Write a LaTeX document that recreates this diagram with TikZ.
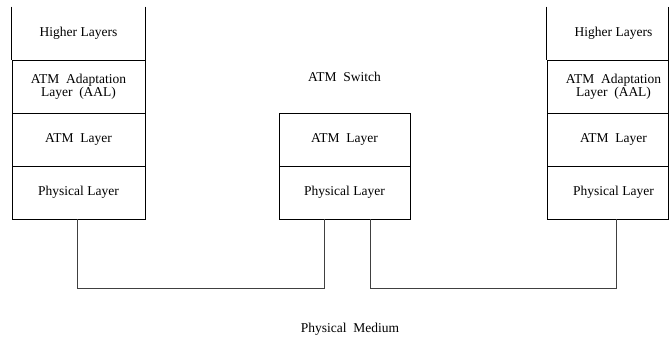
\documentclass[tikz,border=0pt]{standalone}
\usepackage{fontspec}
\setmainfont{Liberation Serif}
\begin{document}
\begin{tikzpicture}[x=1pt,y=-1pt,
  every node/.style={inner sep=0pt, font=\fontsize{13.5}{12}\selectfont},
  layerbox/.style={draw, line width=0.8pt, minimum width=133pt, minimum height=53pt, align=center},
  toplayer/.style={layerbox, draw=none},
  swbox/.style={layerbox, minimum width=131pt},
  wire/.style={line width=0.8pt, draw=black!75}
]
\clip (0,0) rectangle (669,337);
% left end station
\node[toplayer] (LH) at (78.5,33.5) {Higher Layers};
\node[layerbox] (LA) at (78.5,86.5) {ATM\ \ Adaptation\\Layer\ \ (AAL)};
\node[layerbox] (LT) at (78.5,139.5) {ATM\ \ Layer};
\node[layerbox] (LP) at (78.5,192.5) {Physical Layer};
\draw[line width=0.8pt] (LH.north west) -- (LH.south west) (LH.north east) -- (LH.south east);
% switch
\node (SW) at (344.5,77) {ATM\ \ Switch};
\node[swbox] (MT) at (344.5,139.5) {ATM\ \ Layer};
\node[swbox] (MP) at (344.5,192.5) {Physical Layer};
% right end station
\node[toplayer] (RH) at (613.5,33.5) {Higher Layers};
\node[layerbox] (RA) at (613.5,86.5) {ATM\ \ Adaptation\\Layer\ \ (AAL)};
\node[layerbox] (RT) at (613.5,139.5) {ATM\ \ Layer};
\node[layerbox] (RP) at (613.5,192.5) {Physical Layer};
\draw[line width=0.8pt] (RH.north west) -- (RH.south west) (RH.north east) -- (RH.south east);
\coordinate (RE1) at (668.6,7);
\coordinate (RE2) at (668.6,219);
\draw[line width=0.8pt] (RE1) -- (RE2);
% medium
\node (PM) at (350,329) {Physical\ \ Medium};
\coordinate (LS) at ([xshift=-1pt]LP.south);
\coordinate (M1) at ([xshift=-20.5pt]MP.south);
\coordinate (M2) at ([xshift=25.5pt]MP.south);
\coordinate (RS) at ([xshift=2.5pt]RP.south);
\draw[wire] (LS) -- ++(0,69) -| (M1);
\draw[wire] (M2) -- ++(0,69) -| (RS);
\end{tikzpicture}
\end{document}
